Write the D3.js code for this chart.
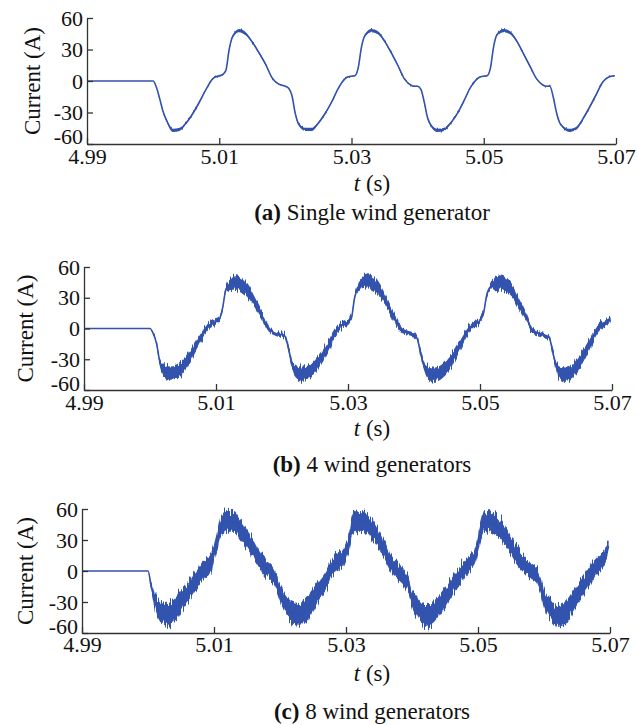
<!DOCTYPE html>
<html>
<head>
<meta charset="utf-8">
<script src="https://cdn.jsdelivr.net/npm/d3@7"></script>
<style>
  body { margin: 0; background: #fff; }
  svg text { font-family: "Liberation Serif", "Times New Roman", serif; fill: #111; }
</style>
</head>
<body>
<div class="current-chart"></div>
<script>
// sample times (s), shared by all three traces
var times = [4.99,
  5.0, 5.0005, 5.001, 5.0015, 5.002, 5.003, 5.004, 5.005, 5.006, 5.007, 5.008, 5.009, 5.0095, 5.0105, 5.011, 5.0115, 5.012, 5.013, 5.014, 5.015, 5.016, 5.017, 5.018, 5.019, 5.0195,
  5.02, 5.0205, 5.021, 5.0215, 5.022, 5.023, 5.024, 5.025, 5.026, 5.027, 5.028, 5.029, 5.0295, 5.0305, 5.031, 5.0315, 5.032, 5.033, 5.034, 5.035, 5.036, 5.037, 5.038, 5.039, 5.0395,
  5.04, 5.0405, 5.041, 5.0415, 5.042, 5.043, 5.044, 5.045, 5.046, 5.047, 5.048, 5.049, 5.0495, 5.0505, 5.051, 5.0515, 5.052, 5.053, 5.054, 5.055, 5.056, 5.057, 5.058, 5.059, 5.0595,
  5.06, 5.0605, 5.061, 5.0615, 5.062, 5.063, 5.064, 5.065, 5.066, 5.067, 5.068, 5.069, 5.0698];

// (a) single wind generator: current (A) and noise half-width (A)
var currentA = [0,
  0, -6, -17, -29, -37, -47, -46, -40, -31, -20, -8, 2, 4, 6, 10, 30, 42, 48, 45, 37, 27, 16, 3, -3, -4,
  -5, -7, -14, -31, -41, -46, -46, -40, -31, -20, -7, 2, 4, 5, 12, 32, 43, 48, 46, 38, 27, 15, 2, -4, -5,
  -5, -8, -20, -35, -42, -47, -46, -40, -31, -19, -6, 2, 4, 5, 12, 33, 44, 48, 46, 38, 26, 14, 2, -4, -5,
  -5, -15, -30, -40, -44, -47, -45, -36, -25, -13, -1, 4, 5];
var spreadA = [0,
  0, 0.3, 0.5, 0.5, 1, 1.5, 1.5, 1, 1, 1, 0.5, 0.5, 0.5, 0.5, 0.5, 0.5, 1, 1.5, 1.5, 1, 1, 1, 0.5, 0.5, 0.5,
  0.5, 0.3, 0.5, 0.5, 1, 1.5, 1.5, 1, 1, 1, 0.5, 0.5, 0.5, 0.5, 0.5, 0.5, 1, 1.5, 1.5, 1, 1, 1, 0.5, 0.5, 0.5,
  0.5, 0.3, 0.5, 0.5, 1, 1.5, 1.5, 1, 1, 1, 0.5, 0.5, 0.5, 0.5, 0.5, 0.5, 1, 1.5, 1.5, 1, 1, 1, 0.5, 0.5, 0.5,
  0.5, 0.3, 0.5, 0.5, 1, 1.5, 1.5, 1, 1, 1, 0.5, 0.5, 0.5];

// (b) 4 wind generators
var currentB = [0,
  0, -5, -15, -33, -40, -44, -43, -37, -28, -17, -6, 3, 5, 9, 20, 38, 42, 45, 42, 35, 24, 12, 0, -5, -6,
  -6, -8, -20, -35, -41, -44, -43, -37, -28, -17, -5, 3, 4, 10, 30, 40, 43, 46, 43, 35, 24, 11, -1, -4, -5,
  -6, -10, -24, -36, -42, -45, -43, -37, -28, -16, -4, 4, 5, 14, 32, 40, 42, 45, 42, 35, 23, 11, -2, -5, -6,
  -7, -9, -22, -36, -43, -45, -42, -34, -23, -10, 1, 5, 8];
var spreadB = [0,
  0, 1, 2, 4, 6, 7, 7, 7, 6, 5, 4, 3, 3, 2, 2, 3, 5, 7, 7, 6, 5, 4, 3, 2, 2,
  2, 2, 3, 4, 6, 7, 7, 7, 6, 5, 4, 3, 3, 2, 2, 3, 5, 7, 7, 6, 5, 4, 3, 2, 2,
  2, 2, 3, 4, 6, 7, 7, 7, 6, 5, 4, 3, 3, 2, 2, 3, 5, 7, 7, 6, 5, 4, 3, 2, 2,
  2, 2, 3, 4, 6, 7, 7, 7, 6, 5, 4, 3, 3];

// (c) 8 wind generators
var currentC = [0,
  0, -15, -28, -36, -40, -42, -38, -29, -21, -11, -2, 4, 7, 30, 43, 46, 48, 48, 40, 31, 21, 10, 2, -5, -12,
  -21, -28, -34, -38, -41, -42, -37, -28, -18, -9, 5, 10, 12, 30, 45, 47, 48, 47, 40, 30, 18, 5, -1, -8, -14,
  -26, -32, -37, -41, -44, -42, -35, -26, -16, -7, 2, 10, 14, 40, 48, 48, 47, 43, 35, 25, 14, 6, 0, -6, -14,
  -27, -33, -37, -41, -44, -42, -34, -23, -14, -4, 5, 11, 24];
var spreadC = [0,
  0, 4, 7, 9, 10, 11, 11, 10, 9, 9, 8, 8, 8, 8, 9, 10, 10, 10, 10, 9, 9, 8, 8, 8, 8,
  8, 9, 10, 10, 11, 11, 11, 10, 9, 9, 8, 8, 8, 8, 9, 10, 10, 10, 10, 9, 9, 8, 8, 8, 8,
  8, 9, 10, 10, 11, 11, 11, 10, 9, 9, 8, 8, 8, 8, 9, 10, 10, 10, 10, 9, 9, 8, 8, 8, 8,
  8, 9, 10, 10, 11, 11, 11, 10, 9, 9, 8, 8, 6];

var xTicks = [4.99, 5.01, 5.03, 5.05, 5.07];
var yTicks = [-60, -30, 0, 30, 60];
var captionTags = ["(a)", "(b)", "(c)"];
var captionTexts = ["Single wind generator", "4 wind generators", "8 wind generators"];

var series = [currentA, currentB, currentC];
var spreads = [spreadA, spreadB, spreadC];

// where each panel sits on the page
var panels = [
  {left: 87, right: 616, top: 18,  bottom: 144, titleX: 40, tickPad: 4, lowShift: -8, xLabelY: 191, captionY: 220, jitter: 3},
  {left: 84, right: 612, top: 267, bottom: 390, titleX: 33, tickPad: 4, lowShift: -7, xLabelY: 436, captionY: 472, jitter: 11},
  {left: 82, right: 610, top: 509, bottom: 633, titleX: 33, tickPad: 3, lowShift: -7, xLabelY: 681, captionY: 719, jitter: 16}
];

var blue = "#3352ae";
var axisColor = "#333";

var svg = d3.select(".current-chart").append("svg")
  .attr("width", 637).attr("height", 725);

//noise texture for the traces
var defs = svg.append("defs");
panels.forEach(function(p, i) {
  var f = defs.append("filter").attr("id", "jitter" + i)
    .attr("filterUnits", "userSpaceOnUse")
    .attr("x", 0).attr("y", 0).attr("width", 637).attr("height", 725);
  f.append("feTurbulence").attr("type", "fractalNoise")
    .attr("baseFrequency", "0.7 0.03").attr("numOctaves", 2).attr("seed", 4 + i).attr("result", "noise");
  f.append("feColorMatrix").attr("in", "noise").attr("type", "matrix")
    .attr("values", "0 0 0 0 0.5  0 1 0 0 0  0 0 0 0 0  0 0 0 0 1").attr("result", "shift");
  f.append("feDisplacementMap").attr("in", "SourceGraphic").attr("in2", "shift")
    .attr("scale", p.jitter).attr("xChannelSelector", "R").attr("yChannelSelector", "G");
});

panels.forEach(function(p, i) {
  var x = d3.scaleLinear().domain([4.99, 5.07]).range([p.left, p.right]);
  var y = d3.scaleLinear().domain([-60, 60]).range([p.bottom, p.top]);

  var pts = times.map(function(t, j) {
    return {t: t, v: series[i][j], s: spreads[i][j]};
  });

  var band = d3.area()
    .curve(d3.curveMonotoneX)
    .x(function(d) { return x(d.t); })
    .y0(function(d) { return y(d.v - d.s); })
    .y1(function(d) { return y(d.v + d.s); });

  var line = d3.line()
    .curve(d3.curveMonotoneX)
    .x(function(d) { return x(d.t); })
    .y(function(d) { return y(d.v); });

  //the noisy band
  svg.append("path")
    .attr("d", band(pts))
    .attr("fill", blue)
    .attr("filter", "url(#jitter" + i + ")");

  //the trace itself
  svg.append("path")
    .attr("d", line(pts))
    .attr("fill", "none")
    .attr("stroke", blue)
    .attr("stroke-width", 1.6);

  //y axis
  var yAxis = svg.append("g")
    .attr("transform", "translate(" + p.left + ",0)")
    .call(d3.axisLeft(y).tickValues(yTicks).tickSize(-6).tickSizeOuter(0).tickPadding(4)
      .tickFormat(function(d) { return String(d); }));
  yAxis.selectAll("text").filter(function(d) { return d === -60; }).attr("y", p.lowShift);

  //x axis
  var xAxis = svg.append("g")
    .attr("transform", "translate(0," + p.bottom + ")")
    .call(d3.axisBottom(x).tickValues(xTicks).tickSize(-6).tickSizeOuter(0).tickPadding(p.tickPad)
      .tickFormat(d3.format(".2f")));

  [yAxis, xAxis].forEach(function(ax) {
    ax.attr("font-family", null).attr("font-size", 22);
    ax.select(".domain").attr("stroke", axisColor).attr("stroke-width", 1.3);
    ax.selectAll(".tick line").attr("stroke", axisColor).attr("stroke-width", 1.3);
    ax.selectAll(".tick text").attr("fill", "#111");
  });

  // y axis title
  svg.append("text")
    .attr("transform", "translate(" + p.titleX + "," + ((p.top + p.bottom) / 2) + ") rotate(-90)")
    .style("text-anchor", "middle")
    .style("font-size", "23px")
    .text("Current (A)");

  // x axis title
  var xt = svg.append("text")
    .attr("x", 372).attr("y", p.xLabelY)
    .style("text-anchor", "middle")
    .style("font-size", "23px");
  xt.append("tspan").style("font-style", "italic").text("t");
  xt.append("tspan").text(" (s)");

  // caption under the panel
  var cap = svg.append("text")
    .attr("x", 372).attr("y", p.captionY)
    .style("text-anchor", "middle")
    .style("font-size", "23px");
  cap.append("tspan").style("font-weight", "bold").text(captionTags[i]);
  cap.append("tspan").text(" " + captionTexts[i]);
});
</script>
</body>
</html>
